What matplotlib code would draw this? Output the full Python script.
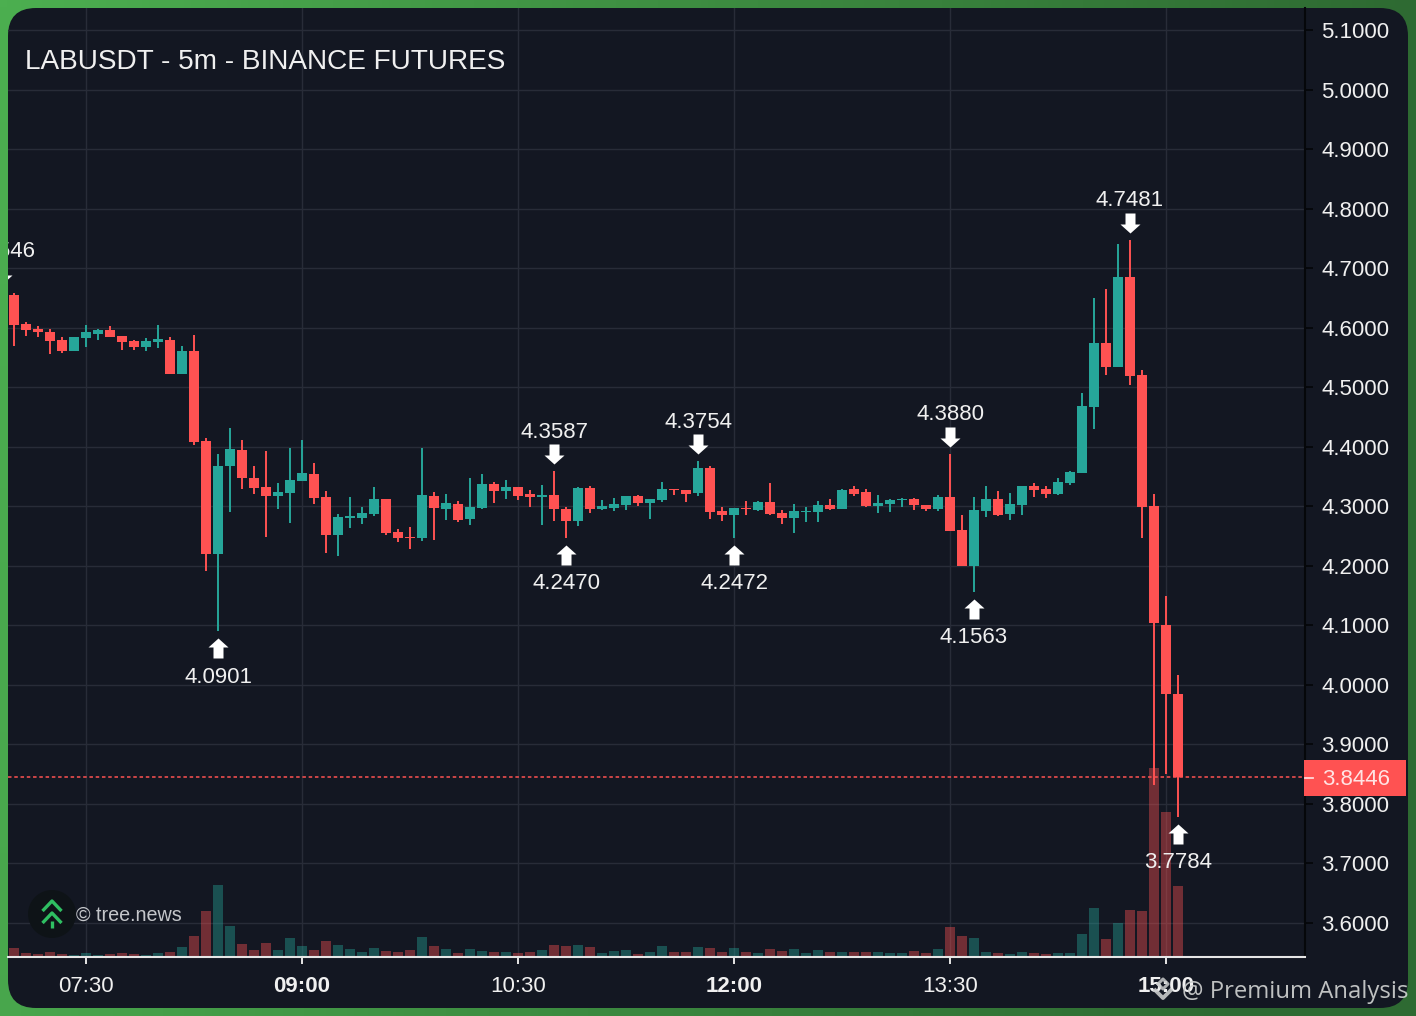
import numpy as np
import matplotlib
matplotlib.use("Agg")
import matplotlib.pyplot as plt
from matplotlib.patches import FancyBboxPatch, Circle, Rectangle
from matplotlib.path import Path
from matplotlib.transforms import Affine2D, blended_transform_factory

plt.rcParams['font.family'] = ['Liberation Sans', 'DejaVu Sans']

TITLE = "LABUSDT - 5m - BINANCE FUTURES"
opens = [4.655,4.606,4.598,4.593,4.579,4.561,4.583,4.589,4.596,4.586,4.578,4.567,4.576,4.579,4.523,4.561,4.410,4.219,4.368,4.395,
         4.347,4.332,4.317,4.322,4.342,4.354,4.316,4.252,4.280,4.280,4.287,4.312,4.257,4.249,4.246,4.317,4.296,4.304,4.279,4.297,
         4.338,4.326,4.332,4.320,4.316,4.319,4.296,4.275,4.330,4.296,4.297,4.302,4.317,4.306,4.311,4.329,4.327,4.322,4.364,4.292,
         4.285,4.297,4.294,4.307,4.289,4.280,4.290,4.290,4.302,4.296,4.329,4.324,4.301,4.304,4.311,4.313,4.302,4.296,4.316,4.260,
         4.200,4.292,4.312,4.287,4.302,4.334,4.329,4.321,4.339,4.356,4.467,4.574,4.534,4.685,4.521,4.301,4.101,3.985]
closes = [4.605,4.596,4.592,4.578,4.560,4.584,4.592,4.596,4.584,4.576,4.567,4.578,4.581,4.523,4.561,4.408,4.219,4.368,4.396,4.347,
          4.331,4.317,4.324,4.344,4.356,4.314,4.252,4.282,4.284,4.289,4.312,4.255,4.247,4.247,4.319,4.297,4.306,4.277,4.299,4.338,
          4.326,4.332,4.318,4.316,4.319,4.296,4.275,4.330,4.296,4.301,4.304,4.317,4.306,4.312,4.329,4.327,4.321,4.364,4.291,4.285,
          4.297,4.296,4.307,4.287,4.280,4.292,4.292,4.302,4.296,4.327,4.321,4.300,4.305,4.311,4.313,4.302,4.296,4.316,4.259,4.200,
          4.294,4.312,4.285,4.304,4.334,4.327,4.321,4.341,4.358,4.469,4.574,4.534,4.685,4.519,4.299,4.104,3.985,3.8446]
highs = [4.659,4.610,4.603,4.598,4.584,4.585,4.605,4.598,4.603,4.586,4.579,4.583,4.604,4.584,4.569,4.588,4.414,4.388,4.431,4.411,
         4.368,4.393,4.339,4.398,4.411,4.373,4.326,4.287,4.316,4.299,4.332,4.312,4.262,4.265,4.398,4.324,4.321,4.309,4.348,4.354,
         4.341,4.344,4.332,4.327,4.336,4.3587,4.299,4.332,4.334,4.311,4.314,4.317,4.319,4.312,4.340,4.329,4.327,4.3754,4.368,4.299,
         4.297,4.309,4.309,4.339,4.294,4.304,4.298,4.309,4.313,4.329,4.334,4.329,4.319,4.313,4.314,4.314,4.302,4.319,4.3880,4.285,
         4.316,4.334,4.326,4.322,4.334,4.339,4.334,4.348,4.359,4.490,4.650,4.665,4.741,4.7481,4.529,4.321,4.149,4.017]
lows = [4.569,4.586,4.584,4.556,4.557,4.560,4.567,4.579,4.584,4.562,4.562,4.561,4.566,4.522,4.522,4.403,4.191,4.0901,4.290,4.329,
        4.321,4.248,4.295,4.272,4.342,4.304,4.222,4.216,4.264,4.270,4.284,4.251,4.240,4.228,4.242,4.243,4.277,4.274,4.269,4.296,
        4.306,4.312,4.311,4.298,4.268,4.275,4.2470,4.267,4.289,4.294,4.292,4.294,4.301,4.279,4.307,4.319,4.307,4.317,4.279,4.275,
        4.2472,4.285,4.292,4.285,4.271,4.255,4.274,4.274,4.294,4.295,4.317,4.298,4.288,4.290,4.298,4.294,4.292,4.292,4.259,4.199,
        4.1563,4.282,4.284,4.277,4.285,4.316,4.314,4.319,4.336,4.356,4.430,4.521,4.534,4.504,4.247,3.832,3.850,3.7784]
volumes = [9,4,3,5,3,2,4,2.5,3,4,3,2.5,4,5,10,21,46,72,31,13,7,14,7,19,11,7,16,12,8,5,9,6,5,
           7,20,11,8,4,8,6,5,5,4,5,7,12,11,12,10,4,6,7,3,5,11,5,5,10,9,5,9,5,4,8,6,8,
           4,7,5,5,5,5,5,4,4,6,4,
           8,30,21,19,5,4,3,5,4,3,4,4,23,49,18,34,47,46,189,145,71]
price_ticks = [3.6,3.7,3.8,3.9,4.0,4.1,4.2,4.3,4.4,4.5,4.6,4.7,4.8,4.9,5.0,5.1]
time_idx = [6,24,42,60,78,96]
time_labels = ["07:30","09:00","10:30","12:00","13:30","15:00"]
time_bold = [False,True,False,True,False,True]
high_marks = [(45,4.3587),(57,4.3754),(78,4.3880),(93,4.7481)]
low_marks = [(17,4.0901),(46,4.2470),(60,4.2472),(80,4.1563),(97,3.7784)]
clipped_mark = (-1, 4.6616, "4.6546")
last_price = 3.8446

RED = "#FF5252"; GREEN = "#26A69A"; BG = "#131722"; GRID = "#282C38"; TXT = "#F0F0F0"
PX = 0.72
W, H = 1416, 1016
fig = plt.figure(figsize=(W/100, H/100), dpi=100)

# background layer
bg = fig.add_axes([0, 0, 1, 1], zorder=0)
bg.set_xlim(0, W); bg.set_ylim(H, 0); bg.axis('off')
xx, yy = np.meshgrid(np.linspace(0, 1, 200), np.linspace(0, 1, 150))
t = np.clip((xx + 0.12*yy), 0, 1)[..., None]
left_c = np.array([76, 175, 80])/255; right_c = np.array([46, 106, 50])/255
bg.imshow(left_c*(1-t) + right_c*t, extent=[0, W, H, 0], aspect='auto', zorder=0)
bg.set_xlim(0, W); bg.set_ylim(H, 0)
r = 28
bg.add_patch(FancyBboxPatch((8+r, 8+r), 1400-2*r, 1000-2*r,
                            boxstyle=f"round,pad={r},rounding_size={r}", fc=BG, ec='none', zorder=1))

# chart
ax = fig.add_axes([8/W, (H-957)/H, 1297/W, 949/H], zorder=1)
ax.patch.set_visible(False)
ax.set_xlim(-0.5, 107.583)
ax.set_ylim(3.5428, 5.1370)
ax.set_axisbelow(True)
ax.grid(True, color=GRID, lw=1.0)

idx = np.arange(len(opens))
o, c, h, l, v = map(np.array, (opens, closes, highs, lows, volumes))
up = c >= o
colors = np.where(up, GREEN, RED)

vol_tf = blended_transform_factory(ax.transData, Affine2D().scale(1, 1/949) + ax.transAxes)
ax.bar(idx, v, width=0.84, color=colors, alpha=0.4, transform=vol_tf, zorder=1, lw=0)
ax.axhline(last_price, color=RED, lw=1.1, dashes=(2.3, 1.8), zorder=2)
ax.vlines(idx, l, h, colors=colors, lw=1.4, zorder=3)
ax.bar(idx, np.abs(c-o), bottom=np.minimum(o, c), width=0.84, color=colors, zorder=4, lw=0)

# arrows and labels
def arrow(sign):
    pts = [(0,7),(10,16),(5,16),(5,27),(-5,27),(-5,16),(-10,16),(0,7)]
    return Path([(px_, sign*py_) for px_, py_ in pts], closed=True)
ms = 54*PX
for i, p in high_marks:
    ax.plot(i, p, marker=arrow(1), ms=ms, color='white', mew=0, zorder=6, ls='none')
    ax.annotate(f"{p:.4f}", (i, p), xytext=(0, 39*PX), textcoords='offset points', ha='center', va='center',
                color=TXT, fontsize=16, zorder=7, annotation_clip=False)
for i, p in low_marks:
    ax.plot(i, p, marker=arrow(-1), ms=ms, color='white', mew=0, zorder=6, ls='none')
    ax.annotate(f"{p:.4f}", (i, p), xytext=(0, -46*PX), textcoords='offset points', ha='center', va='center',
                color=TXT, fontsize=16, zorder=7, annotation_clip=False)
i, p, s = clipped_mark
ax.plot(i, p, marker=arrow(1), ms=ms, color='white', mew=0, zorder=6, ls='none')
ax.annotate(s, (i, p), xytext=(0, 39*PX), textcoords='offset points', ha='center', va='center',
            color=TXT, fontsize=16, zorder=7, annotation_clip=False, clip_on=True)

# axes
ax.yaxis.tick_right()
ax.set_yticks(price_ticks)
ax.set_yticklabels([f"{x:.4f}" for x in price_ticks])
ax.set_xticks(time_idx)
ax.set_xticklabels(time_labels)
for lab, b in zip(ax.get_xticklabels(), time_bold):
    lab.set_fontweight('bold' if b else 'normal')
ax.tick_params(axis='y', length=8*PX, width=1.3, color='#05070A', labelcolor=TXT, labelsize=16, pad=8*PX)
ax.tick_params(axis='x', length=7*PX, width=1.4, color='#E6E6E6', labelcolor=TXT, labelsize=16, pad=12*PX)
for k in ('top', 'left'):
    ax.spines[k].set_visible(False)
ax.spines['right'].set_color('#05070A'); ax.spines['right'].set_linewidth(1.5)
ax.spines['bottom'].set_color('#E6E6E6'); ax.spines['bottom'].set_linewidth(1.5)

# overlay
ov = fig.add_axes([0, 0, 1, 1], zorder=2)
ov.set_xlim(0, W); ov.set_ylim(H, 0); ov.axis('off')
ov.text(25, 62, TITLE, color=TXT, fontsize=20.2, va='center', ha='left')
# last price tag
ov.add_patch(Rectangle((1304, 760), 102, 36, fc=RED, ec='none'))
ov.plot([1305, 1313], [778, 778], color='#FFD8D8', lw=1.3)
ov.text(1322, 779.5, f"{last_price:.4f}", color='#FFE4E4', fontsize=16, va='center', ha='left')
# tree logo
ov.add_patch(Circle((52, 914), 24, fc='#0E1317', ec='none'))
G = '#2FBF62'
ov.plot([42.5, 52, 61.5], [911, 901, 911], color=G, lw=2.4, solid_capstyle='butt')
ov.plot([42.5, 52, 61.5], [923, 913, 923], color=G, lw=2.4, solid_capstyle='butt')
ov.plot([52, 52], [921, 928], color=G, lw=2.4, solid_capstyle='butt')
ov.text(76, 915.5, "© tree.news", color='#C4C6CA', fontsize=14.2, va='center', ha='left')
# watermark
WM = '#C9CBCB'
ov.plot([1154, 1163, 1172], [989, 998, 989], color=WM, lw=2.8, alpha=0.9, solid_capstyle='butt')
ov.plot([1158, 1163, 1168, 1163, 1158], [984, 979, 984, 989, 984], color=WM, lw=2.2, alpha=0.85)
ov.text(1182, 992, "@ Premium Analysis", color=WM, fontsize=17.2, va='center', ha='left', family='Open Sans', alpha=0.95)

fig.savefig("out.png", dpi=100, facecolor=BG)
